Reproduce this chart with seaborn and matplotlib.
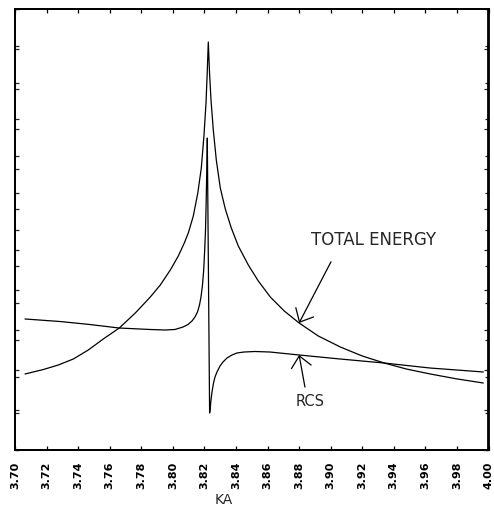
import matplotlib
matplotlib.use("Agg")
import matplotlib.pyplot as plt
import pandas as pd
import seaborn as sns

# Total energy versus KA (first scale, 12 divisions)
ka_energy = [3.70634, 3.71795, 3.72743, 3.73694, 3.74644, 3.75594, 3.76608,
             3.77622, 3.78572, 3.79206, 3.79840, 3.80347, 3.80727, 3.80980,
             3.81297, 3.81582, 3.81804, 3.81975, 3.82102, 3.82171, 3.82247,
             3.82323, 3.82418, 3.82564, 3.82754, 3.83007, 3.83324, 3.83704,
             3.84148, 3.84782, 3.85415, 3.86176, 3.87062, 3.88000, 3.89216,
             3.90610, 3.92004, 3.93398, 3.94792, 3.96313, 3.97960, 3.99671]
energy = [2.068, 2.190, 2.313, 2.476, 2.721, 3.021, 3.320,
          3.728, 4.163, 4.490, 4.898, 5.279, 5.633, 5.905,
          6.367, 6.993, 7.673, 8.571, 9.442, 10.177, 11.102,
          10.286, 9.524, 8.707, 7.891, 7.129, 6.558, 6.041,
          5.551, 5.034, 4.599, 4.163, 3.782, 3.456, 3.102,
          2.803, 2.558, 2.367, 2.204, 2.068, 1.937, 1.823]

# Radar cross section versus KA (second scale, 11 divisions)
ka_rcs = [3.70634, 3.72851, 3.74752, 3.76589, 3.78553, 3.79504, 3.80137,
          3.80644, 3.80961, 3.81214, 3.81404, 3.81563, 3.81689, 3.81784,
          3.81879, 3.81955, 3.82019, 3.82070, 3.82108, 3.82139, 3.82165,
          3.82184, 3.82330, 3.82374, 3.82418, 3.82482, 3.82577, 3.82672,
          3.82798, 3.82988, 3.83178, 3.83432, 3.83749, 3.84066, 3.84509,
          3.85206, 3.86156, 3.88000, 3.90591, 3.93379, 3.96294, 3.99671]
rcs = [3.268, 3.205, 3.130, 3.043, 3.006, 2.993, 3.006,
       3.068, 3.130, 3.218, 3.318, 3.442, 3.617, 3.816,
       4.116, 4.490, 4.989, 5.488, 6.111, 6.735, 7.234,
       7.782, 0.923, 1.048, 1.247, 1.447, 1.671, 1.821,
       1.946, 2.095, 2.195, 2.295, 2.370, 2.420, 2.444,
       2.457, 2.444, 2.370, 2.270, 2.170, 2.045, 1.946]

ka_ticks = [3.70, 3.72, 3.74, 3.76, 3.78, 3.80, 3.82, 3.84,
            3.86, 3.88, 3.90, 3.92, 3.94, 3.96, 3.98, 4.00]
ka_tick_labels = ["3.70", "3.72", "3.74", "3.76", "3.78", "3.80", "3.82", "3.84",
                  "3.86", "3.88", "3.90", "3.92", "3.94", "3.96", "3.98", "4.00"]

energy_df = pd.DataFrame({"KA": ka_energy, "energy": energy})
rcs_df = pd.DataFrame({"KA": ka_rcs, "rcs": rcs})

sns.set_theme(style="ticks")
plt.rcParams["font.family"] = ["DejaVu Sans"]

fig = plt.figure(figsize=(4.94, 5.09), dpi=100)
ax = fig.add_axes([15 / 494, 1 - 450 / 509, 473.5 / 494, 441 / 509])
ax2 = ax.twinx()

sns.lineplot(data=energy_df, x="KA", y="energy", ax=ax, color="black",
             linewidth=0.9, estimator=None, sort=False)
sns.lineplot(data=rcs_df, x="KA", y="rcs", ax=ax2, color="black",
             linewidth=0.9, estimator=None, sort=False)

ax.set_xlim(3.70, 4.00)
ax.set_ylim(0, 12)
ax2.set_ylim(0, 11)
ax.set_xticks(ka_ticks)
ax.set_xticklabels(ka_tick_labels, rotation=90, fontsize=8, fontweight="bold")
ax.set_yticks(range(0, 13))
ax2.set_yticks(range(0, 12))
ax.set_ylabel("")
ax2.set_ylabel("")

ax.tick_params(axis="x", direction="in", top=True, bottom=True, length=3,
               width=0.9, pad=8.5, colors="black")
ax.tick_params(axis="y", direction="in", left=True, right=True, length=3,
               width=0.9, labelleft=False, labelright=False)
ax2.tick_params(axis="y", direction="in", left=True, right=True, length=3,
                width=0.9, labelleft=False, labelright=False)

for a in (ax, ax2):
    for s in a.spines.values():
        s.set_visible(True)
        s.set_color("black")
        s.set_linewidth(1.3)

ax.set_xlabel("KA", fontsize=10, va="center")
ax.xaxis.set_label_coords(0.44, -(500 - 450) / 441)

arrow = dict(arrowstyle="->,head_length=0.8,head_width=0.72", color="black",
             lw=0.9, shrinkA=0, shrinkB=0, mutation_scale=10)
ax.annotate("", xy=(3.880, 3.456), xytext=(3.9002, 5.12), arrowprops=arrow)
ax.text(3.9271, 5.71, "TOTAL ENERGY", fontsize=12, ha="center", va="center")

ax2.annotate("", xy=(3.880, 2.370), xytext=(3.8837, 1.57), arrowprops=arrow)
ax2.text(3.8869, 1.22, "RCS", fontsize=10.5, ha="center", va="center")

fig.savefig("out.png", dpi=100, facecolor="white")
